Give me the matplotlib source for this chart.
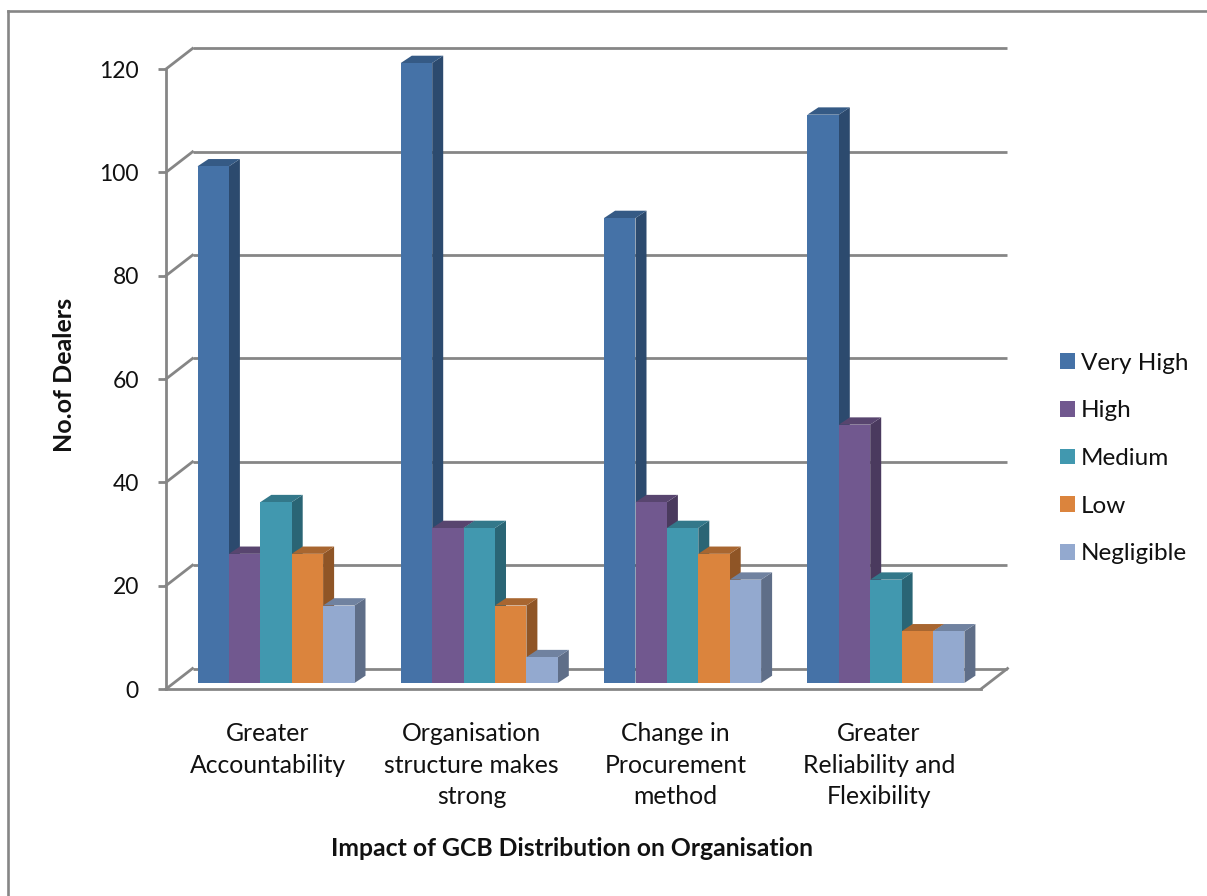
import matplotlib
matplotlib.use('Agg')
import matplotlib.pyplot as plt
from matplotlib.lines import Line2D
from matplotlib.patches import Patch

plt.rcParams['font.family'] = ['Lato', 'DejaVu Sans']

# Data
categories = ['Greater\nAccountability', 'Organisation\nstructure makes\nstrong',
              'Change in\nProcurement\nmethod', 'Greater\nReliability and\nFlexibility']
series_names = ['Very High', 'High', 'Medium', 'Low', 'Negligible']
very_high = [100, 120, 90, 110]
high = [25, 30, 35, 50]
medium = [35, 30, 30, 20]
low = [25, 15, 25, 10]
negligible = [15, 5, 20, 10]
y_ticks = [0, 20, 40, 60, 80, 100, 120]

series = [very_high, high, medium, low, negligible]
front_cols = ['#4572A7', '#71588F', '#4198AF', '#DB843D', '#93A9CF']
side_cols = ['#2C4A6E', '#4A3A5E', '#2A6575', '#8F5526', '#5F6E88']
top_cols = ['#355A85', '#58456F', '#33788A', '#A86630', '#7082A0']
grid_col = '#868686'

W, H = 1207, 896
fig = plt.figure(figsize=(W / 100, H / 100), dpi=100)
ax = fig.add_axes([166 / W, (H - 689) / H, 815 / W, 620 / H])
ax.set_xlim(0, 4)
ax.set_ylim(0, 120)

# pixel sizes turned into data units
px_x = 4 / 815
px_y = 120 / 620
wall_dx, wall_dy = 26.5 * px_x, 20.5 * px_y
bar_dx, bar_dy = 11 * px_x, 7.3 * px_y
bar_w = 31.4 * px_x
start = 31.5 * px_x
group_step = 203.3 * px_x
lift = 6 * px_y

# back wall gridlines and the diagonals going back to them
for v in y_ticks:
    ax.plot([0, wall_dx], [v, v + wall_dy], color=grid_col, lw=2.0, clip_on=False, zorder=1)
    ax.plot([wall_dx, 4 + wall_dx], [v + wall_dy, v + wall_dy], color=grid_col, lw=2.0,
            clip_on=False, zorder=1, solid_capstyle='butt')
ax.plot([4, 4 + wall_dx], [0, wall_dy], color=grid_col, lw=2.0, clip_on=False, zorder=1)

# bars, left to right so later ones cover earlier sides
z = 2
for c in range(len(categories)):
    for s in range(len(series)):
        val = series[s][c]
        x0 = c * group_step + start + s * bar_w
        x1 = x0 + bar_w
        ytop = lift + val
        ax.fill([x1, x1 + bar_dx, x1 + bar_dx, x1],
                [lift, lift + bar_dy, ytop + bar_dy, ytop],
                color=side_cols[s], lw=0, clip_on=False, zorder=z)
        ax.fill([x0, x0 + bar_dx, x1 + bar_dx, x1],
                [ytop, ytop + bar_dy, ytop + bar_dy, ytop],
                color=top_cols[s], lw=0, clip_on=False, zorder=z)
        ax.bar(x0, val, width=bar_w, bottom=lift, align='edge', color=front_cols[s],
               lw=0, clip_on=False, zorder=z)
        z += 1

for name in ['top', 'right']:
    ax.spines[name].set_visible(False)
for name in ['left', 'bottom']:
    ax.spines[name].set_color(grid_col)
    ax.spines[name].set_linewidth(2.0)
    ax.spines[name].set_zorder(z)

ax.set_yticks(y_ticks)
ax.set_xticks([0.5, 1.5, 2.5, 3.5])
ax.set_xticklabels(categories, linespacing=1.44)
ax.tick_params(axis='y', length=6, width=2.0, color=grid_col, labelsize=16.5, pad=13.5, labelcolor='#111111')
ax.tick_params(axis='x', length=0, labelsize=17.8, pad=24, labelcolor='#111111')

fig.text(572 / W, (H - 848) / H, 'Impact of GCB Distribution on Organisation', fontsize=17.8,
         fontweight='bold', ha='center', va='center', color='#111111')
fig.text(65 / W, (H - 375) / H, 'No.of Dealers', fontsize=18, fontweight='bold',
         rotation=90, ha='center', va='center', color='#111111')

handles = [Patch(facecolor=col, lw=0) for col in front_cols]
fig.legend(handles, series_names, loc='center left', bbox_to_anchor=(1060 / W, (H - 458.5) / H),
           frameon=False, fontsize=17.5, labelspacing=1.10, handlelength=0.62, handleheight=0.62,
           handletextpad=0.25, borderpad=0, borderaxespad=0, labelcolor='#111111')

# outer chart frame, open on the right and bottom edges of the image
fig.add_artist(Line2D([8 / W, 1], [(H - 11) / H, (H - 11) / H], color=grid_col, lw=1.9))
fig.add_artist(Line2D([8 / W, 8 / W], [0, (H - 11) / H], color=grid_col, lw=1.9))

fig.savefig('out.png', dpi=100)
